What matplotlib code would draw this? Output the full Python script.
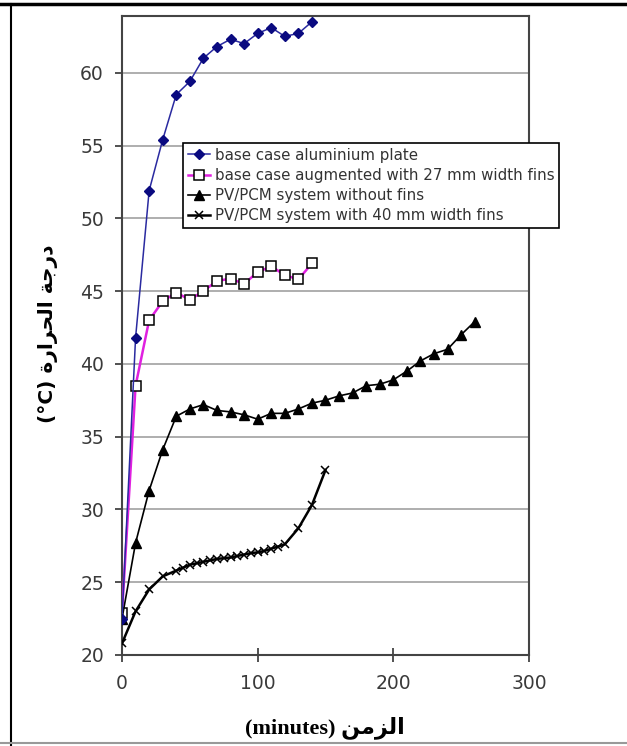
import matplotlib
matplotlib.use("Agg")
import matplotlib.pyplot as plt
from matplotlib.lines import Line2D

# time (minutes) and temperature (C)
t_base = [0, 10, 20, 30, 40, 50, 60, 70, 80, 90, 100, 110, 120, 130, 140]
temp_base = [22.5, 41.8, 51.9, 55.4, 58.5, 59.4, 61.0, 61.8, 62.3, 62.0,
             62.7, 63.1, 62.5, 62.7, 63.5]

t_fins27 = [0, 10, 20, 30, 40, 50, 60, 70, 80, 90, 100, 110, 120, 130, 140]
temp_fins27 = [22.9, 38.5, 43.0, 44.3, 44.9, 44.4, 45.0, 45.7, 45.85, 45.5,
               46.3, 46.7, 46.1, 45.8, 46.9]

t_pcm = [0, 10, 20, 30, 40, 50, 60, 70, 80, 90, 100, 110, 120, 130, 140,
         150, 160, 170, 180, 190, 200, 210, 220, 230, 240, 250, 260]
temp_pcm = [22.5, 27.7, 31.3, 34.1, 36.4, 36.9, 37.2, 36.8, 36.7, 36.5,
            36.2, 36.6, 36.6, 36.9, 37.3, 37.5, 37.8, 38.0, 38.5, 38.6,
            38.9, 39.5, 40.2, 40.7, 41.0, 42.0, 42.9]

t_pcm40 = [0, 10, 20, 30, 40, 45, 50, 55, 60, 65, 70, 75, 80, 85, 90, 95,
           100, 105, 110, 115, 120, 130, 140, 150]
temp_pcm40 = [20.8, 23.0, 24.5, 25.4, 25.8, 26.0, 26.2, 26.3, 26.4, 26.5,
              26.6, 26.65, 26.7, 26.8, 26.9, 27.0, 27.05, 27.15, 27.3,
              27.45, 27.6, 28.7, 30.3, 32.7]

labels = ["base case aluminium plate",
          "base case augmented with 27 mm width fins",
          "PV/PCM system without fins",
          "PV/PCM system with 40 mm width fins"]

xticks = [0, 100, 200, 300]
yticks = [20, 25, 30, 35, 40, 45, 50, 55, 60]

# Arabic text in visual order (presentation forms, no shaping engine here)
ylab = "(\u00b0C) \uFE93\uFEAD\uFE8D\uFEAE\uFEA4\uFEDF\uFE8D \uFE94\uFE9F\uFEAD\uFEA9"
xlab = "(minutes) \uFEE6\uFEE3\uFEB0\uFEDF\uFE8D"

fig = plt.figure(figsize=(6.27, 7.46), dpi=100)
ax = fig.add_axes([0.1946, 0.122, 0.649, 0.8566])

ax.yaxis.grid(True, color="#a8a8a8", lw=1.3)
ax.set_axisbelow(True)

ax.plot(t_fins27, temp_fins27, color="#e020e0", lw=1.8, marker="s", ms=7,
        mfc="white", mec="black", mew=1.1, label=labels[1], zorder=3)
ax.plot(t_pcm, temp_pcm, color="black", lw=1.2, marker="^", ms=6.5,
        label=labels[2], zorder=3)
ax.plot(t_pcm40, temp_pcm40, color="black", lw=1.8, marker="x", ms=6,
        mew=1.1, label=labels[3], zorder=3)
ax.plot(t_base, temp_base, color="#2a2aa0", lw=1.1, marker="D", ms=5.5,
        mfc="#0a0a80", mec="#0a0a80", label=labels[0], zorder=4)

ax.set_xlim(0, 300)
ax.set_ylim(20, 63.9)
ax.set_xticks(xticks)
ax.set_yticks(yticks)
ax.tick_params(axis="both", labelsize=13.5, labelcolor="#3a3a3a",
               color="#333333")
ax.tick_params(axis="y", direction="out", length=5, width=1.2, pad=8)
ax.tick_params(axis="x", direction="inout", length=10, width=1.2, pad=9)
for s in ax.spines.values():
    s.set_color("#444444")
    s.set_linewidth(1.5)

h, l = ax.get_legend_handles_labels()
order = [3, 0, 1, 2]
leg = ax.legend([h[i] for i in order], [l[i] for i in order],
                loc="upper left", bbox_to_anchor=(0.15, 0.801),
                borderaxespad=0, fontsize=10.8, frameon=True, fancybox=False,
                edgecolor="black", framealpha=1, handlelength=1.5,
                handletextpad=0.3, labelspacing=0.35, borderpad=0.3)
leg.get_frame().set_linewidth(1.2)
leg.set_zorder(5)
for t in leg.get_texts():
    t.set_color("#333333")

fig.text(0.077, 0.552, ylab, rotation=90, ha="center", va="center",
         fontsize=14.5, fontweight="bold", family=["DejaVu Sans"])
fig.text(0.518, 0.024, xlab, ha="center", va="center", fontsize=16,
         fontweight="bold", family=["Liberation Serif", "DejaVu Sans"])

# outer frame of the original picture
fig.add_artist(Line2D([0, 1], [0.995, 0.995], color="black", lw=2.5))
fig.add_artist(Line2D([0.017, 0.017], [0, 0.995], color="black", lw=1.5))
fig.add_artist(Line2D([0, 1], [0.004, 0.004], color="#999999", lw=1.5))

fig.savefig("out.png", dpi=100)
